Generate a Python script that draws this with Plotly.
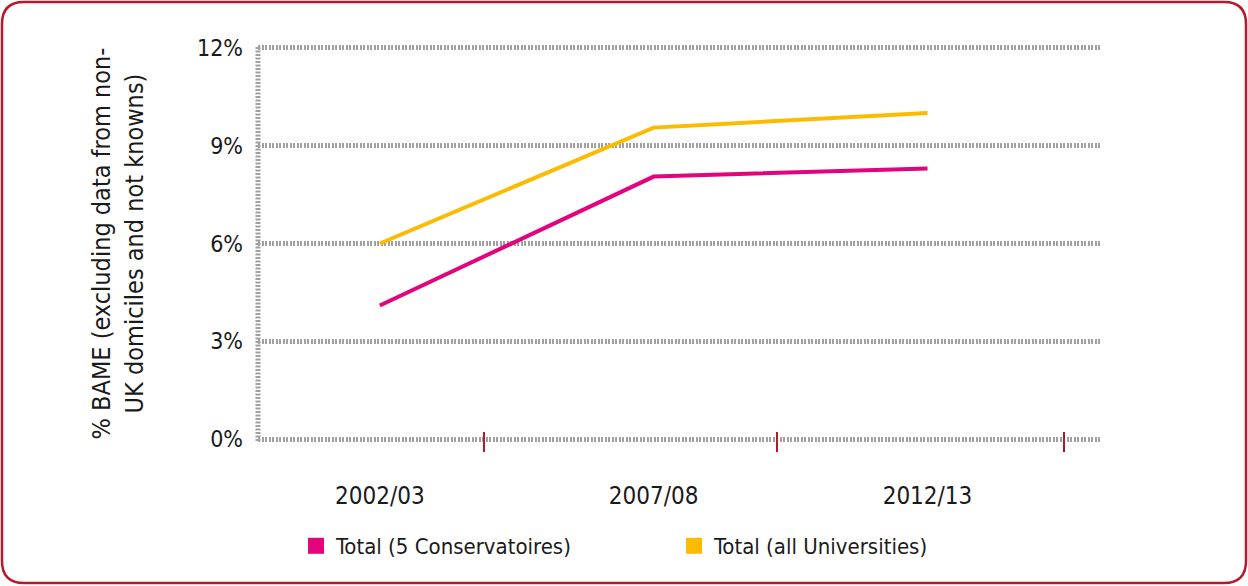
import plotly.graph_objects as go

years = ["2002/03", "2007/08", "2012/13"]
conservatoires = [4.1, 8.05, 8.3]
universities = [6.0, 9.55, 10.0]
y_ticks = [0, 3, 6, 9, 12]
y_tick_labels = ["0%", "3%", "6%", "9%", "12%"]

PINK = "#e2047c"
YELLOW = "#fbbb00"
RED = "#b8182c"
GRID = "#a0a0a0"
FONT = "DejaVu Sans Condensed, Liberation Sans Narrow, sans-serif"

W, H = 1248, 586
L, R, T, B = 258, 148, 46, 145
PW, PH = W - L - R, H - T - B
YR = [-0.05, 12.05]
XR = [-0.445, 2.63]

fig = go.Figure()
fig.add_trace(go.Scatter(x=[0, 1, 2], y=universities, mode="lines",
                         line=dict(color=YELLOW, width=4), showlegend=False, hoverinfo="skip"))
fig.add_trace(go.Scatter(x=[0, 1, 2], y=conservatoires, mode="lines",
                         line=dict(color=PINK, width=4), showlegend=False, hoverinfo="skip"))
# legend entries (square swatches)
fig.add_trace(go.Scatter(x=[None], y=[None], mode="markers", name="Total (5 Conservatoires)",
                         marker=dict(symbol="square", size=20, color=PINK)))
fig.add_trace(go.Scatter(x=[None], y=[None], mode="markers", name="Total (all Universities)",
                         marker=dict(symbol="square", size=20, color=YELLOW)))

def px(x):
    return (x - L) / PW

def py(y):
    return (T + PH - y) / PH

# rounded border around whole figure
x0, x1, y0, y1, r = 2, 1246, 2, 583, 22
path = (f"M {px(x0+r)},{py(y0)} L {px(x1-r)},{py(y0)} Q {px(x1)},{py(y0)} {px(x1)},{py(y0+r)} "
        f"L {px(x1)},{py(y1-r)} Q {px(x1)},{py(y1)} {px(x1-r)},{py(y1)} "
        f"L {px(x0+r)},{py(y1)} Q {px(x0)},{py(y1)} {px(x0)},{py(y1-r)} "
        f"L {px(x0)},{py(y0+r)} Q {px(x0)},{py(y0)} {px(x0+r)},{py(y0)} Z")
fig.add_shape(type="path", path=path, xref="paper", yref="paper",
              line=dict(color=RED, width=2.5), layer="below")
# hatched vertical axis line
fig.add_shape(type="line", xref="paper", yref="paper", x0=0, x1=0, y0=0, y1=1,
              line=dict(color=GRID, width=5, dash="2px,1.5px"), layer="below")

fig.update_layout(
    width=W, height=H,
    margin=dict(l=L, r=R, t=T, b=B),
    paper_bgcolor="white", plot_bgcolor="white",
    font=dict(family=FONT, color="#1a1a1a", size=22),
    xaxis=dict(
        tickmode="array", tickvals=[0, 1, 2], ticktext=years,
        range=XR, showgrid=False, zeroline=False, showline=False,
        ticks="", tickfont=dict(size=24), ticklabelstandoff=38,
    ),
    yaxis=dict(
        range=YR, tickmode="array", tickvals=y_ticks, ticktext=y_tick_labels,
        showgrid=True, gridcolor=GRID, gridwidth=5, griddash="2px,1.5px",
        zeroline=False, showline=False, ticks="", tickfont=dict(size=23),
        ticklabelstandoff=14,
        title=dict(text="% BAME (excluding data from non-<br>UK domiciles and not knowns)",
                   font=dict(size=25), standoff=46),
    ),
    legend=dict(orientation="h", x=px(296), xanchor="left", y=py(546), yanchor="middle",
                font=dict(size=22), entrywidth=333, itemsizing="trace"),
)

# red tick marks between categories, crossing the base line
fig.add_trace(go.Scatter(x=[None], y=[None], xaxis="x2", showlegend=False))
fig.update_layout(xaxis2=dict(overlaying="x", anchor="free", position=10 / PH,
                              range=XR,
                              tickmode="array", tickvals=[0.38, 1.45, 2.5], ticktext=["", "", ""],
                              ticks="outside", ticklen=20, tickwidth=2, tickcolor=RED,
                              showgrid=False, zeroline=False, showline=False))

fig.write_html("out.html", config={"displayModeBar": False},
               post_script="document.body.style.margin='0';document.body.style.overflow='hidden';")
